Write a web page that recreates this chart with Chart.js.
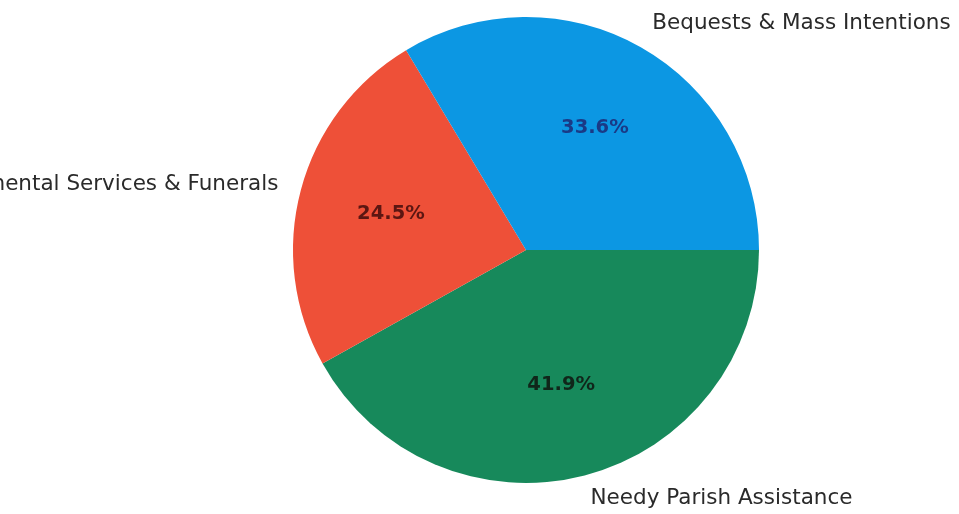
<!DOCTYPE html>
<html>
<head>
<meta charset="utf-8">
<script src="https://cdn.jsdelivr.net/npm/chart.js@4"></script>
<style>
  html, body { margin: 0; padding: 0; background: #ffffff; }
  #wrap { width: 959px; height: 514px; position: relative; }
</style>
</head>
<body>
<div id="wrap"><canvas id="myChart"></canvas></div>
<script>
// data, in matplotlib order (counter-clockwise from 3 o'clock)
var categories = ["Bequests & Mass Intentions", "Sacramental Services & Funerals", "Needy Parish Assistance"];
var shares = [33.6, 24.5, 41.9];
var sliceColors = ["#0c97e3", "#ee5038", "#17895b"];
var pctColors = ["#1a3a86", "#5c1612", "#10261a"];

// chart.js goes clockwise, so feed it reversed
var labels = categories.slice().reverse();
var values = shares.slice().reverse();
var colors = sliceColors.slice().reverse();
var textColors = pctColors.slice().reverse();

var pieLabels = {
    id: 'pieLabels',
    afterDatasetsDraw: function (chart) {
        var ctx = chart.ctx;
        var meta = chart.getDatasetMeta(0);
        ctx.save();
        meta.data.forEach(function (arc, i) {
            var p = arc.getProps(['x', 'y', 'startAngle', 'endAngle', 'outerRadius'], true);
            var mid = (p.startAngle + p.endAngle) / 2;
            var c = Math.cos(mid), s = Math.sin(mid);
            // category label outside
            ctx.font = '21.5px "DejaVu Sans"';
            ctx.fillStyle = '#2a2a2a';
            ctx.textBaseline = 'middle';
            ctx.textAlign = c > 0 ? 'left' : 'right';
            ctx.fillText(labels[i], p.x + c * p.outerRadius * 1.1, p.y + s * p.outerRadius * 1.1 - (s < -0.5 ? 4 : 0));
            // percentage inside
            ctx.font = 'bold 19.5px "DejaVu Sans"';
            ctx.fillStyle = textColors[i];
            ctx.textAlign = 'center';
            ctx.fillText(values[i].toFixed(1) + '%', p.x + c * p.outerRadius * 0.6, p.y + s * p.outerRadius * 0.6);
        });
        ctx.restore();
    }
};

const ctx = document.getElementById('myChart');
new Chart(ctx, {
    type: 'pie',
    data: {
        labels: labels,
        datasets: [{
            data: values,
            backgroundColor: colors,
            borderWidth: 0
        }]
    },
    options: {
        responsive: true,
        maintainAspectRatio: false,
        animation: false,
        rotation: 90,
        layout: {
            padding: { left: 293, right: 200, top: 17, bottom: 31 }
        },
        plugins: {
            legend: { display: false },
            tooltip: { enabled: false }
        }
    },
    plugins: [pieLabels]
});
</script>
</body>
</html>
